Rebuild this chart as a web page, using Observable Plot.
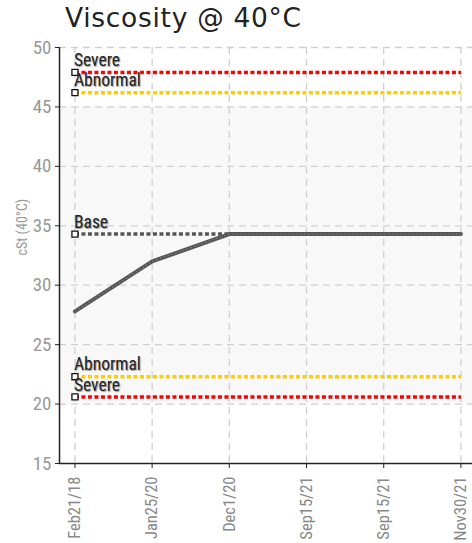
<!DOCTYPE html>
<html>
<head>
<meta charset="utf-8">
<script src="https://cdn.jsdelivr.net/npm/d3@7"></script>
<script src="https://cdn.jsdelivr.net/npm/@observablehq/plot@0.6"></script>
<style>
  html, body { margin: 0; padding: 0; background: #fff; }
  #title { height: 36px; box-sizing: border-box; padding: 3px 0 0 65px; font: 26.5px "DejaVu Sans", sans-serif; letter-spacing: 0.7px; color: #222; white-space: nowrap; line-height: 30px; }
  #chart svg { display: block; }
  .lbl text { text-shadow: 1px 1px 1px #999; }
</style>
</head>
<body>
<div id="title">Viscosity @ 40°C</div>
<div id="chart"></div>
<script>
const categories = ["Feb21/18", "Jan25/20", "Dec1/20", "Sep15/21", "Sep15/21", "Nov30/21"];
const values = [27.8, 32.0, 34.3, 34.3, 34.3, 34.3];
const yTicks = [15, 20, 25, 30, 35, 40, 45, 50];
const yLabel = "cSt (40°C)";
const thresholdNames = ["Severe", "Abnormal", "Base", "Abnormal", "Severe"];
const thresholdValues = [47.9, 46.2, 34.3, 22.3, 20.6];
const thresholdColors = ["#ff0000", "#ffcc00", "#555555", "#ffcc00", "#ff0000"];
const bandRange = [20, 45];

const idx = categories.map((_, i) => i);
const xDomain = [-0.2, idx.length - 1 + 0.15];
const series = idx.map(i => ({i, v: values[i]}));
const thresholds = thresholdNames.map((name, k) => ({name, v: thresholdValues[k], color: thresholdColors[k]}));
const thresholdSegs = thresholds.flatMap((t, k) => idx.map(i => ({k, i, v: t.v, color: t.color})));
const fontAxis = "'Roboto Condensed', 'Liberation Sans Narrow', 'DejaVu Sans Condensed', sans-serif";

const chart = Plot.plot({
  width: 472,
  height: 507,
  marginLeft: 59,
  marginRight: 0,
  marginTop: 11,
  marginBottom: 80,
  style: {fontFamily: fontAxis, background: "#fff", overflow: "visible"},
  x: {type: "linear", domain: xDomain},
  y: {domain: [15, 50]},
  marks: [
    Plot.rect([{x1: xDomain[0], x2: xDomain[1], y1: bandRange[0], y2: bandRange[1]}], {x1: "x1", x2: "x2", y1: "y1", y2: "y2", fill: "#f8f8f8"}),
    Plot.ruleY(yTicks.slice(1), {stroke: "#d0d0d0", strokeWidth: 1.3, strokeDasharray: "7,5"}),
    Plot.ruleX(idx, {stroke: "#d0d0d0", strokeWidth: 1.3, strokeDasharray: "7,5"}),
    Plot.axisY({ticks: yTicks, tickSize: 4, tickPadding: 4, fontSize: 19, color: "#999", stroke: "#222", tickFormat: d => d, label: null}),
    Plot.text([yLabel], {text: d => d, frameAnchor: "left", rotate: -90, dx: -37, fontSize: 14, fill: "#999"}),
    Plot.axisX({ticks: idx, tickSize: 5, tickRotate: -90, tickPadding: 8, fontSize: 16.5, color: "#888", stroke: "#222", tickFormat: i => categories[i], label: null}),
    Plot.ruleY([15], {stroke: "#222", strokeWidth: 1.5}),
    Plot.ruleX([xDomain[0]], {stroke: "#222", strokeWidth: 1.5}),
    Plot.line(thresholdSegs, {x: "i", y: "v", z: "k", stroke: "color", strokeWidth: 3.5, strokeDasharray: "4,2.5", strokeLinecap: "butt"}),
    Plot.line(series, {x: "i", y: "v", stroke: "#555", strokeWidth: 4}),
    Plot.line(series, {x: "i", y: "v", stroke: "#7a7a7a", strokeWidth: 1.2, strokeDasharray: "2,2", strokeLinecap: "butt"}),
    Plot.dot(thresholds, {x: () => 0, y: "v", symbol: "square", r: 3.4, fill: "#fff", stroke: "#111", strokeWidth: 1.3}),
    Plot.text(thresholds, {x: () => 0, y: "v", text: "name", textAnchor: "start", dx: -1, dy: -12, fontSize: 17.5, fill: "#222", className: "lbl", fontFamily: fontAxis})
  ]
});
document.getElementById("chart").appendChild(chart);
</script>
</body>
</html>
